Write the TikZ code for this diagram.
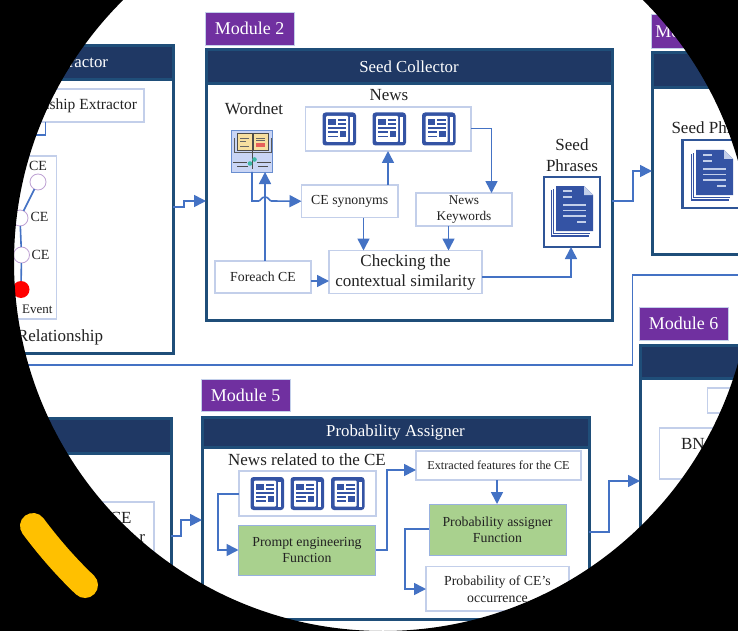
\documentclass[tikz,border=0pt]{standalone}
\usepackage{fontspec}
\setmainfont{Liberation Serif}
\usetikzlibrary{arrows.meta}
\definecolor{tagpurple}{HTML}{7030A0}
\definecolor{hdrblue}{HTML}{1F3864}
\definecolor{panelblue}{HTML}{1F4E79}
\definecolor{edgeblue}{HTML}{C3CFEA}
\definecolor{lineblue}{HTML}{4472C4}
\definecolor{iconblue}{HTML}{3453A4}
\definecolor{docblue}{HTML}{2F5597}
\definecolor{okgreen}{HTML}{A9D18E}
\definecolor{dktext}{HTML}{222222}
\definecolor{mustard}{HTML}{FFC000}
\definecolor{bookbg}{HTML}{C9D5F5}
\definecolor{bookpage}{HTML}{F6DFA0}
\definecolor{bookred}{HTML}{E8605A}
\definecolor{leaf}{HTML}{3FB8A8}
\newcommand{\fs}[2]{\fontsize{#1}{#2}\selectfont}
\tikzset{
  every node/.style={inner sep=0pt,outer sep=0pt,text=dktext,align=center},
  tagbox/.style={fill=tagpurple,draw=edgeblue,line width=.6pt,text=white,font=\fs{18}{20}},
  panelbody/.style={fill=white,draw=panelblue,line width=3pt},
  panelhead/.style={fill=hdrblue,draw=panelblue,line width=3pt,text=white,font=\fs{16.8}{18}},
  plainbox/.style={fill=white,draw=edgeblue,line width=1.1pt,font=\fs{13.8}{16}},
  greenbox/.style={fill=okgreen,draw=lineblue!55,line width=.9pt,font=\fs{13.8}{16}},
  ttl/.style={font=\fs{17}{21}},
  conn/.style={draw=lineblue,line width=1.6pt,-{Triangle[length=12pt,width=12pt]}},
  wire/.style={draw=lineblue,line width=1.6pt},
  docframe/.style={fill=white,draw=docblue,line width=2.4pt},
  cenode/.style={circle,fill=white,draw=tagpurple!45,line width=.8pt,minimum size=16pt},
  eventnode/.style={circle,fill=red,minimum size=17pt},
  small/.style={font=\fs{14}{16}},
}
% box by corners: [style]{name}{x1}{y1}{x2}{y2}{text}
\newcommand{\bx}[7][]{%
  \pgfmathsetmacro{\bxw}{#5-#3}\pgfmathsetmacro{\bxh}{#6-#4}%
  \pgfmathsetmacro{\bxa}{(#3+#5)/2}\pgfmathsetmacro{\bxb}{(#4+#6)/2}%
  \node[#1,minimum width=\bxw pt,minimum height=\bxh pt] (#2) at (\bxa,\bxb) {#7};}
% newspaper icon centred at x,y
\newcommand{\newsicon}[2]{%
  \begin{scope}[shift={(#1,#2)}]
    \fill[iconblue,rounded corners=3pt] (-17,-16.5) rectangle (16.5,16.5);
    \fill[white] (10.5,-12) rectangle (13.5,13);
    \fill[white,rounded corners=1pt] (-13.5,-13) rectangle (8.5,13);
    \fill[iconblue] (-11.5,-9.5) rectangle (-4,-4);
    \fill[iconblue] (-2,-9.5) rectangle (6.5,-7.8);
    \fill[iconblue] (-2,-5.6) rectangle (6.5,-4);
    \fill[iconblue] (-11.5,-1.8) rectangle (6.5,0);
    \fill[iconblue] (-11.5,2.5) rectangle (-2,4.2);
    \fill[iconblue] (-11.5,6.8) rectangle (-2,8.5);
    \fill[iconblue] (0,2.5) rectangle (6.5,8.5);
  \end{scope}}
% stacked document icon, top-left of the front page at x,y
\newcommand{\docicon}[2]{%
  \begin{scope}[shift={(#1,#2)}]
    \fill[iconblue] (-5.5,4) rectangle (33,50.5);
    \fill[white] (-4.5,4) rectangle (33,49.3);
    \fill[iconblue] (-3,3) rectangle (34,48);
    \fill[white] (-2,3) rectangle (34,46.7);
    \fill[iconblue] (0,0) -- (28,0) -- (37,9) -- (37,45) -- (0,45) -- cycle;
    \fill[edgeblue] (28,0) -- (37,9) -- (28,9) -- cycle;
    \foreach \a/\b/\y in {7/16/5,7/16/11,7/30/19,7/30/24.5,7/30/30,21/30/36}
      \draw[edgeblue,line width=1.2pt] (\a,\y) -- (\b,\y);
  \end{scope}}
\begin{document}
\begin{tikzpicture}[x=1pt,y=-1pt]
\useasboundingbox (0,0) rectangle (738,631);
\clip (0,0) rectangle (738,631);
\fill[white] (0,0) rectangle (738,631);

% ---------- panels
\bx[panelbody]{mo}{-60}{46}{173}{353}{}
\bx[panelhead]{moh}{-60}{46}{173}{80}{}
\node[anchor=east,text=white,font=\fs{16.8}{18}] (mot) at (108,62) {Extractor};

\bx[tagbox]{tagb}{205}{12}{294}{45}{Module 2}
\bx[panelbody]{mb}{206}{50}{612}{320}{}
\bx[panelhead]{mbh}{206}{50}{612}{84}{Seed Collector}

\bx[tagbox]{tagc}{651}{14}{760}{48}{\hspace*{-31pt}Module 3}
\bx[panelbody]{mc}{652}{53}{800}{254}{}
\bx[panelhead]{mch}{652}{53}{800}{88}{}

\bx[tagbox]{tagf}{639}{307}{728}{340}{Module 6}
\bx[panelbody]{mf}{640}{345}{860}{640}{}
\bx[panelhead]{mfh}{640}{345}{860}{378}{}

\bx[panelbody]{md}{-60}{418}{171}{640}{}
\bx[panelhead]{mdh}{-60}{418}{171}{453}{}

\bx[tagbox]{tage}{201}{379}{290}{411}{Module 5}
\bx[panelbody]{me}{202}{417}{589}{619}{}
\bx[panelhead]{meh}{202}{417}{589}{447}{Probability Assigner}

% ---------- module 1 contents
\bx[plainbox]{rel}{-40}{89}{144}{122}{}
\node[anchor=east,font=\fs{15.5}{18}] (relt) at (137,105.5) {Relationship Extractor};
\coordinate (relout) at (20,135);
\draw[wire] (rel.south -| 45.5,0) -- (45.5,135) -- (relout);
\bx[plainbox]{gr}{-30}{156}{56.5}{319}{}
\node[cenode] (ca) at (38,182) {};
\node[cenode] (cb) at (20,218) {};
\node[cenode] (cc) at (21.5,255) {};
\node[eventnode] (ev) at (21,289.5) {};
\draw[wire] (ca) -- (cb);
\draw[wire] (cb) -- (cc);
\draw[wire] (cc) -- (ev);
\node[small] (la) at (38,166) {CE};
\node[small] (lb) at (39.5,217) {CE};
\node[small] (lc) at (40.5,255) {CE};
\node[anchor=east,font=\fs{13}{15}] (le) at (52.5,309) {Event};
\node[anchor=east,ttl] (lr) at (103,337) {Relationship};

% ---------- module 2 contents
\node[ttl] (wnt) at (254,108.5) {Wordnet};
\bx[fill=bookbg,draw=lineblue!80,line width=.9pt]{wn}{231.5}{130.5}{272.5}{172}{}
\fill[black!65] (233.5,138) rectangle (271.5,153.5);
\fill[bookbg] (234.5,138) rectangle (270.5,152.5);
\fill[bookpage] (237,133) rectangle (252,150);
\fill[bookpage] (253,133) rectangle (268,150);
\draw[black!70,line width=.6pt] (237,133) rectangle (252,150) (253,133) rectangle (268,150);
\fill[bookred] (255.5,143) rectangle (265,147.5);
\draw[black!60,line width=.7pt] (240,138) -- (249,138) (240,141) -- (246,141) (240,146) -- (249,146) (256,138) -- (265,138) (256,140.5) -- (265,140.5);
\draw[black!70,line width=.7pt] (252.5,150) -- (252.5,169) (233,162) -- (247,162) (237,166) -- (248,166) (257,162) -- (271,162) (258,166) -- (268,166);
\fill[leaf] (250,163.5) circle (2.3);
\fill[leaf] (254.5,159.5) circle (2.3);

\node[ttl] (nwt) at (389,95.5) {News};
\bx[plainbox]{nw}{305.5}{107}{471}{151}{}
\newsicon{339.5}{129}\newsicon{389.5}{129}\newsicon{439}{129}
\bx[plainbox]{ces}{301.5}{185}{398}{217.5}{CE synonyms}
\bx[plainbox,font=\fs{13.3}{16}]{kw}{416}{193}{512}{226}{News\\Keywords}
\bx[plainbox,font=\fs{17}{20}]{chk}{329}{250.5}{482}{293.5}{Checking the\\contextual similarity}
\bx[plainbox]{fe}{215}{261}{311}{293}{Foreach CE}
\node[ttl] (spt) at (572,155.5) {Seed\\Phrases};
\bx[docframe]{sp}{544}{177}{600}{247}{}
\docicon{556}{186}

\draw[conn] (wn.south) -- (252,201) -- (258.5,201) .. controls (261,201) and (261,197) .. (265,197) .. controls (269,197) and (269,201) .. (271.5,201) -- (ces.west);
\draw[conn] (fe.north -| 265,0) -- (wn.south -| 265,0);
\draw[conn] (fe.east |- 0,281) -- (chk.west |- 0,281);
\draw[conn] (ces.north -| 388,0) -- (nw.south -| 388,0);
\draw[conn] (ces.south -| 363.5,0) -- (chk.north -| 363.5,0);
\draw[conn] (kw.south -| 448.5,0) -- (chk.north -| 448.5,0);
\draw[conn] (nw.east |- 0,128.5) -- (491.5,128.5) -- (kw.north -| 491.5,0);
\draw[conn] (chk.east |- 0,277) -- (571,277) -- (sp.south -| 571,0);

% ---------- module 3 contents
\node[anchor=west,ttl] (spc) at (671.5,128) {Seed Phrases};
\bx[docframe]{spb}{682.5}{140}{760}{208}{}
\docicon{696}{150}

% ---------- module 4 contents
\bx[plainbox]{pd}{60}{502}{154}{620}{}
\node[anchor=east,font=\fs{17}{19}] (pdt) at (131.5,518) {CE};
\node[anchor=east,font=\fs{17}{19}] (pdu) at (145,538) {r};

% ---------- module 5 contents
\node[ttl] (nrt) at (307,459.5) {News related to the CE};
\bx[plainbox]{nr}{239}{471}{376}{516}{}
\newsicon{267.5}{493.5}\newsicon{307.5}{493.5}\newsicon{348}{493.5}
\bx[greenbox]{pe}{238.5}{525}{375.5}{575.5}{Prompt engineering\\Function}
\bx[plainbox,font=\fs{12.2}{14}]{ef}{416}{451}{581}{480}{Extracted features for the CE}
\bx[greenbox]{pa}{429}{504}{566}{555}{Probability assigner\\Function}
\bx[plainbox,font=\fs{13.8}{17}]{po}{426}{566.5}{569}{611}{Probability of CE's\\occurrence}
\draw[conn] (nr.west |- 0,494) -- (218,494) -- (218,550) -- (pe.west |- 0,550);
\draw[conn] (pe.east |- 0,550) -- (387,550) -- (387,470) -- (ef.west |- 0,470);
\draw[conn] (ef.south -| 497,0) -- (pa.north -| 497,0);
\draw[conn] (pa.west |- 0,529) -- (405,529) -- (405,589) -- (po.west |- 0,589);

% ---------- module 6 contents
\bx[plainbox]{sb}{707.5}{388}{800}{413}{}
\bx[plainbox]{bn}{659.5}{428}{800}{479}{}
\node[anchor=west,ttl] (bnt) at (681,444) {BN};

% ---------- inter-module connectors
\draw[conn] (mo.east |- 0,207) -- (184,207) -- (184,201) -- (mb.west |- 0,201);
\draw[conn] (mb.east |- 0,201) -- (633,201) -- (633,171) -- (mc.west |- 0,171);
\draw[conn] (md.east |- 0,536) -- (181,536) -- (181,520) -- (me.west |- 0,520);
\draw[conn] (me.east |- 0,532) -- (609,532) -- (609,481) -- (mf.west |- 0,481);
\coordinate (fbr) at (760,275);
\coordinate (fbl) at (-10,365);
\draw[wire] (fbr) -- (632.5,275) -- (632.5,365) -- (fbl);

% ---------- mask and stroke
\fill[black,even odd rule] (-2,-2) rectangle (740,633) (383,262) circle [radius=369];
\draw[mustard,line width=26pt,line cap=round] (33,526) .. controls (48,546) and (65,566) .. (85,585);
\end{tikzpicture}
\end{document}
